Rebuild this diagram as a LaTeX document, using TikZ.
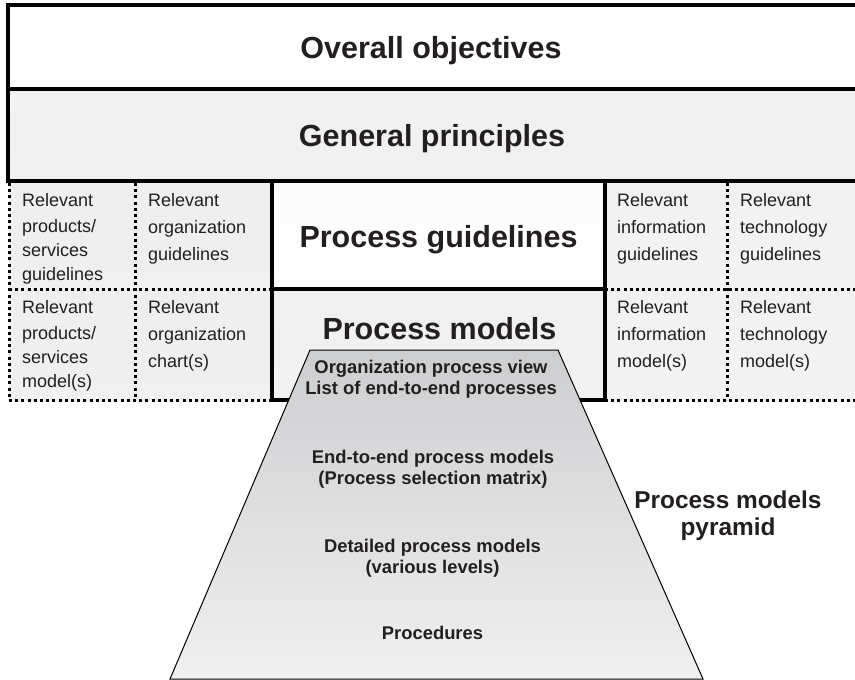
\documentclass[tikz,border=0pt]{standalone}
\usepackage{fontspec}
\setmainfont{Liberation Sans}
\definecolor{ink}{HTML}{231F20}
\definecolor{pyrtop}{HTML}{CDCED0}
\definecolor{pyrbot}{HTML}{F0F0F0}
\begin{document}
\begin{tikzpicture}[x=1pt,y=-1pt,
  solidline/.style={line width=3.3pt, black, line cap=rect},
  dotline/.style={line width=3pt, black, dash pattern=on 3pt off 3.2pt},
  heading/.style={font=\bfseries\fontsize{30.5}{36}\selectfont, text=ink, anchor=base, inner sep=0pt},
  cell/.style={font=\fontsize{18}{27}\selectfont, text=ink, anchor=base west, inner sep=0pt},
  cellfour/.style={cell, font=\fontsize{18}{24}\selectfont},
  pyr/.style={font=\bfseries\fontsize{18.4}{21}\selectfont, text=ink, anchor=base, inner sep=0pt},
  lbl/.style={font=\bfseries\fontsize{24.4}{27}\selectfont, text=ink, anchor=base, inner sep=0pt},
]
\useasboundingbox (0,0) rectangle (855,680);
% fills
\fill[white] (8,5) rectangle (862,89);
\shade[top color=gray!10, middle color=white, bottom color=gray!12] (8,89) rectangle (862,181);
\shade[top color=gray!13, middle color=gray!5, bottom color=gray!12] (9,181) rectangle (272,289);
\shade[top color=gray!13, middle color=gray!5, bottom color=gray!12] (9,289) rectangle (272,400);
\shade[top color=gray!11, bottom color=gray!9] (605,181) rectangle (862,289);
\shade[top color=gray!11, bottom color=gray!9] (605,289) rectangle (862,400);
\shade[top color=gray!3, bottom color=white] (272,181) rectangle (605,289);
\shade[top color=gray!12, middle color=gray!4, bottom color=gray!10] (272,289) rectangle (605,400);
% dotted lines
\draw[dotline] (9,183) -- (9,400);
\draw[dotline] (135,183) -- (135,400);
\draw[dotline] (727,183) -- (727,400);
\draw[dotline] (9,289) -- (272,289);
\draw[dotline] (605,289) -- (862,289);
\draw[dotline] (9,400) -- (272,400);
\draw[dotline] (605,400) -- (862,400);
% solid lines
\draw[solidline] (862,5) -- (8,5) -- (8,181);
\draw[solidline] (8,89) -- (862,89);
\draw[solidline] (8,181) -- (862,181);
\draw[solidline] (272,181) -- (272,400);
\draw[solidline] (605,181) -- (605,400);
\draw[solidline] (272,289) -- (605,289);
\draw[solidline] (272,400) -- (605,400);
% pyramid
\shade[top color=pyrtop, bottom color=pyrbot] (310,350) -- (558,350) -- (703,679) -- (170,679) -- cycle;
\draw[line width=1pt, black] (310,350) -- (558,350) -- (703,679) -- (170,679) -- cycle;
% headings
\node[heading] (oo) at (431,58) {Overall objectives};
\node[heading] (gp) at (432,146) {General principles};
\node[heading] (pg) at (438.5,247) {Process guidelines};
\node[heading] (pm) at (439.5,339) {Process models};
% cells
\node[cellfour] (c11) at (22,206) {\begin{tabular}[t]{@{}l@{}}Relevant\\[2pt] products/\\ services\\ guidelines\end{tabular}};
\node[cell] (c12) at (148,206) {\begin{tabular}[t]{@{}l@{}}Relevant\\ organization\\ guidelines\end{tabular}};
\node[cell] (c13) at (617,206) {\begin{tabular}[t]{@{}l@{}}Relevant\\ information\\ guidelines\end{tabular}};
\node[cell] (c14) at (740,206) {\begin{tabular}[t]{@{}l@{}}Relevant\\ technology\\ guidelines\end{tabular}};
\node[cellfour] (c21) at (22,313) {\begin{tabular}[t]{@{}l@{}}Relevant\\[2pt] products/\\ services\\ model(s)\end{tabular}};
\node[cell] (c22) at (148,313) {\begin{tabular}[t]{@{}l@{}}Relevant\\ organization\\ chart(s)\end{tabular}};
\node[cell] (c23) at (617,313) {\begin{tabular}[t]{@{}l@{}}Relevant\\ information\\ model(s)\end{tabular}};
\node[cell] (c24) at (740,313) {\begin{tabular}[t]{@{}l@{}}Relevant\\ technology\\ model(s)\end{tabular}};
% pyramid texts
\node[pyr] (p1) at (431,373) {\begin{tabular}[t]{@{}c@{}}Organization process view\\ List of end-to-end processes\end{tabular}};
\node[pyr] (p2) at (433,463) {\begin{tabular}[t]{@{}c@{}}End-to-end process models\\ (Process selection matrix)\end{tabular}};
\node[pyr] (p3) at (432.5,552) {\begin{tabular}[t]{@{}c@{}}Detailed process models\\ (various levels)\end{tabular}};
\node[pyr] (p4) at (432.5,639) {Procedures};
% label
\node[lbl] (pl) at (728,508) {\begin{tabular}[t]{@{}c@{}}Process models\\ pyramid\end{tabular}};
\end{tikzpicture}
\end{document}
